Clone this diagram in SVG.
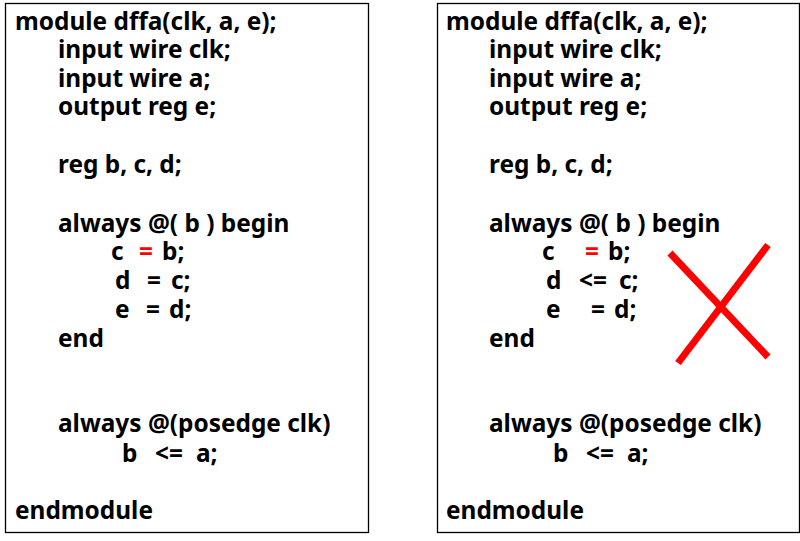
<svg xmlns="http://www.w3.org/2000/svg" width="800" height="541" viewBox="0 0 800 541">
<style>
.box{fill:#fff;stroke:#000;stroke-width:1.3}
.t{font-family:"Noto Sans","Open Sans","DejaVu Sans",sans-serif;font-weight:bold;font-size:24.4px;fill:#000}
.r{fill:#f00}
.x{stroke:#f00;stroke-width:7;fill:none}
</style>
<rect width="800" height="541" fill="#fff"/>
<g id="left">
<rect class="box" x="5.5" y="3.5" width="363" height="529"/>
<text class="t" x="15" y="30">module dffa(clk, a, e);</text>
<text class="t" x="58" y="58">input wire clk;</text>
<text class="t" x="58" y="87">input wire a;</text>
<text class="t" x="58" y="115">output reg e;</text>
<text class="t" x="58" y="173">reg b, c, d;</text>
<text class="t" x="58" y="232">always @( b ) begin</text>
<text class="t" x="111" y="260">c</text><text class="t r" x="139" y="260">=</text><text class="t" x="162" y="260">b;</text>
<text class="t" x="115" y="289">d</text><text class="t" x="147" y="289">=</text><text class="t" x="171" y="289">c;</text>
<text class="t" x="115" y="318">e</text><text class="t" x="146" y="318">=</text><text class="t" x="169" y="318">d;</text>
<text class="t" x="58" y="347">end</text>
<text class="t" x="58" y="432">always @(posedge clk)</text>
<text class="t" x="122" y="462">b</text><text class="t" x="155" y="462">&lt;=</text><text class="t" x="196" y="462">a;</text>
<text class="t" x="15" y="519">endmodule</text>
</g>
<g id="right">
<rect class="box" x="437.5" y="3.5" width="362" height="529"/>
<text class="t" x="446" y="30">module dffa(clk, a, e);</text>
<text class="t" x="489" y="58">input wire clk;</text>
<text class="t" x="489" y="87">input wire a;</text>
<text class="t" x="489" y="115">output reg e;</text>
<text class="t" x="489" y="173">reg b, c, d;</text>
<text class="t" x="489" y="232">always @( b ) begin</text>
<text class="t" x="542" y="260">c</text><text class="t r" x="585" y="260">=</text><text class="t" x="608" y="260">b;</text>
<text class="t" x="546" y="289">d</text><text class="t" x="579" y="289">&lt;=</text><text class="t" x="619" y="289">c;</text>
<text class="t" x="546" y="318">e</text><text class="t" x="591" y="318">=</text><text class="t" x="614" y="318">d;</text>
<text class="t" x="489" y="347">end</text>
<text class="t" x="489" y="432">always @(posedge clk)</text>
<text class="t" x="553" y="462">b</text><text class="t" x="586" y="462">&lt;=</text><text class="t" x="627" y="462">a;</text>
<text class="t" x="446" y="519">endmodule</text>
</g>
<g id="cross">
<line class="x" x1="670" y1="253" x2="768" y2="357"/>
<line class="x" x1="768" y1="245" x2="678" y2="363"/>
</g>
</svg>
